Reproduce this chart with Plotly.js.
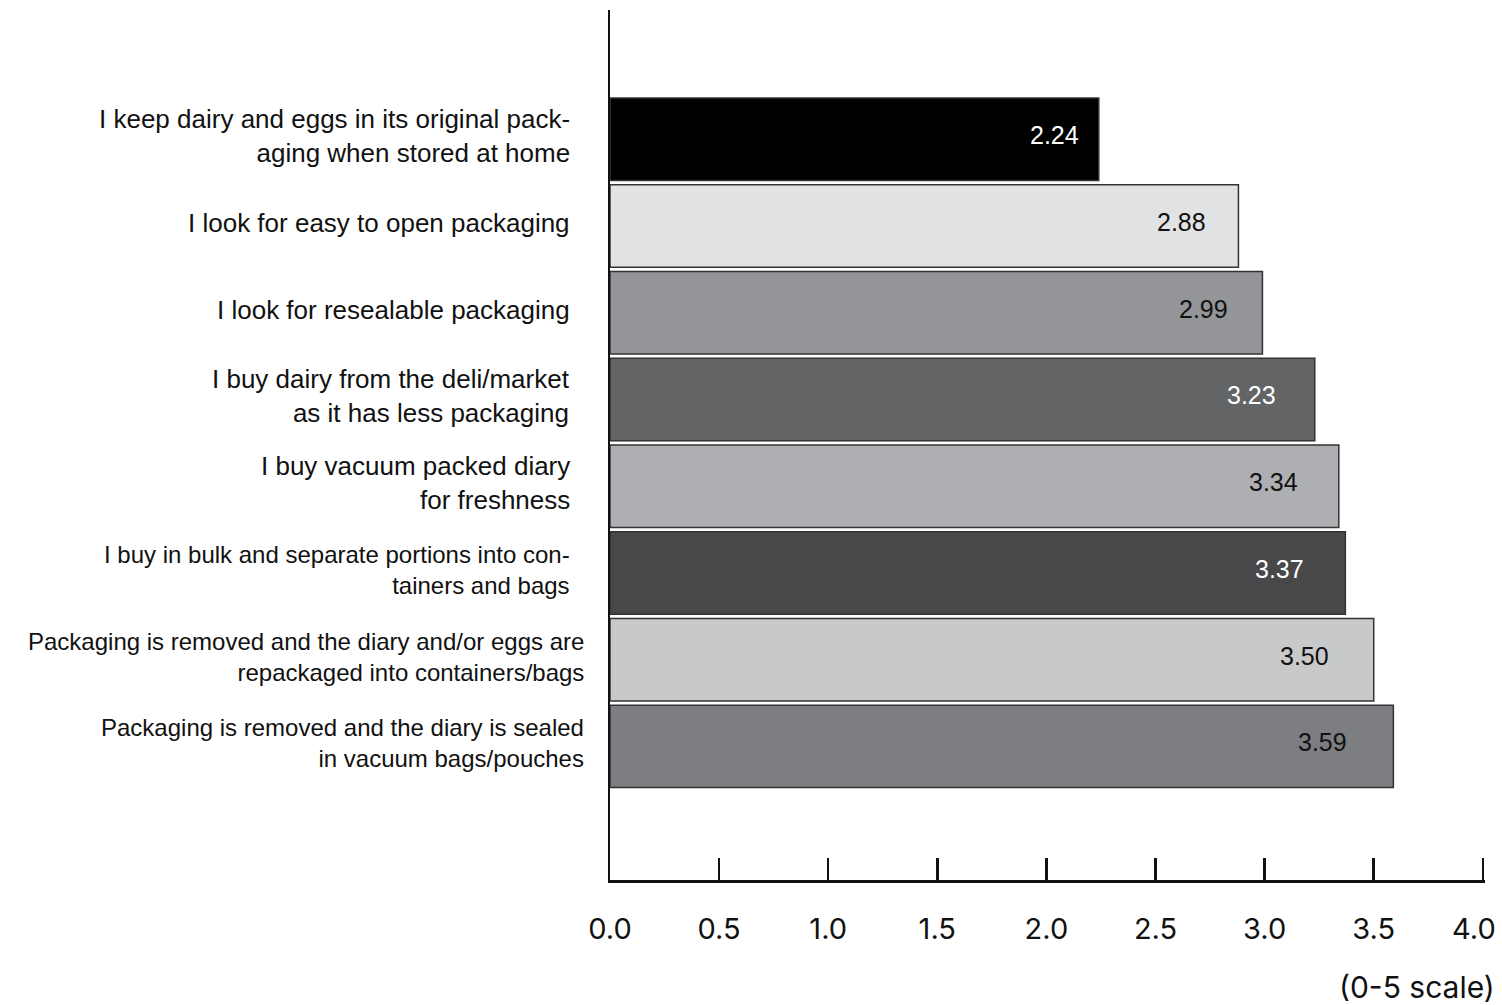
<!DOCTYPE html>
<html>
<head>
<meta charset="utf-8">
<script src="https://cdn.plot.ly/plotly-3.0.1.min.js"></script>
<style>html,body{margin:0;padding:0;background:#fff;}#chart{width:1502px;height:1005px;}</style>
</head>
<body>
<div id="chart"></div>
<script>
// ---- data ----
const categories = [
  "I keep dairy and eggs in its original pack-<br>aging when stored at home",
  "I look for easy to open packaging",
  "I look for resealable packaging",
  "I buy dairy from the deli/market<br>as it has less packaging",
  "I buy vacuum packed diary<br>for freshness",
  "I buy in bulk and separate portions into con-<br>tainers and bags",
  "Packaging is removed and the diary and/or eggs are<br>repackaged into containers/bags",
  "Packaging is removed and the diary is sealed<br>in vacuum bags/pouches"
];
const values = [2.24, 2.88, 2.99, 3.23, 3.34, 3.37, 3.50, 3.59];
const tickValues = [0, 0.5, 1, 1.5, 2, 2.5, 3, 3.5, 4];
const tickLabels = ["0.0", "0.5", "1.0", "1.5", "2.0", "2.5", "3.0", "3.5", "4.0"];
const unitNote = "(0-5 scale)";

// ---- styles ----
const barColors = ["#000000", "#e1e2e4", "#939598", "#636466", "#aeafb2", "#48484a", "#c8c9cb", "#7d7e82"];
const valueTextColors = ["#ffffff", "#111111", "#111111", "#ffffff", "#111111", "#ffffff", "#111111", "#111111"];
const labelSizes = [26, 26, 26, 26, 26, 24, 24, 24];
const labelShift = [-38, -38, -38, -38, -38, -38, -24, -24];
const helv = "Arial, 'Liberation Sans', Helvetica, sans-serif";
const tickFont = {family: "Inter, Lato, sans-serif", size: 29, color: "#111111"};

const trace = {
  type: "bar",
  orientation: "h",
  y: categories,
  x: values,
  width: 0.95,
  marker: {color: barColors, line: {color: "#333333", width: 1.5}},
  hoverinfo: "none"
};

const annotations = [];
categories.forEach((c, i) => {
  annotations.push({
    xref: "paper", yref: "y", x: 0, y: c, xanchor: "right", yanchor: "middle",
    xshift: labelShift[i], yshift: 3, align: "right", showarrow: false, text: c,
    font: {family: helv, size: labelSizes[i], color: "#111111"}
  });
  annotations.push({
    xref: "x", yref: "y", x: values[i] * 0.91, y: c, xanchor: "center", yanchor: "middle",
    yshift: 4, showarrow: false, text: values[i].toFixed(2),
    font: {family: helv, size: 25, color: valueTextColors[i]}
  });
});
// last tick label kept inside the page edge
const lastIdx = tickValues.length - 1;
annotations.push({
  xref: "x", yref: "paper", x: tickValues[lastIdx], y: -0.0563, xanchor: "right", yanchor: "middle",
  xshift: 15, showarrow: false, text: tickLabels[lastIdx], font: tickFont
});
annotations.push({
  xref: "paper", yref: "paper", x: 1.0137, y: -0.123, xanchor: "right", yanchor: "middle",
  showarrow: false, text: unitNote,
  font: {family: "Inter, Lato, sans-serif", size: 30, color: "#111111"}
});

const layout = {
  width: 1502, height: 1005,
  margin: {l: 610, r: 17, t: 10, b: 125, pad: 0},
  paper_bgcolor: "#ffffff", plot_bgcolor: "#ffffff",
  showlegend: false,
  xaxis: {
    range: [0, 4.01], tickvals: tickValues,
    ticktext: tickLabels.map((t, i) => (i === lastIdx ? "" : t)),
    ticks: "inside", ticklen: 22, tickwidth: 2.5, tickcolor: "#111111",
    showline: true, linecolor: "#111111", linewidth: 2.5,
    showgrid: false, zeroline: false, ticklabelstandoff: 22,
    tickfont: tickFont
  },
  yaxis: {
    type: "category", range: [8.54, -1.49], showticklabels: false,
    showline: true, linecolor: "#111111", linewidth: 2.5,
    showgrid: false, zeroline: false, ticks: ""
  },
  annotations: annotations
};

Plotly.newPlot("chart", [trace], layout, {displayModeBar: false, staticPlot: true});
</script>
</body>
</html>
